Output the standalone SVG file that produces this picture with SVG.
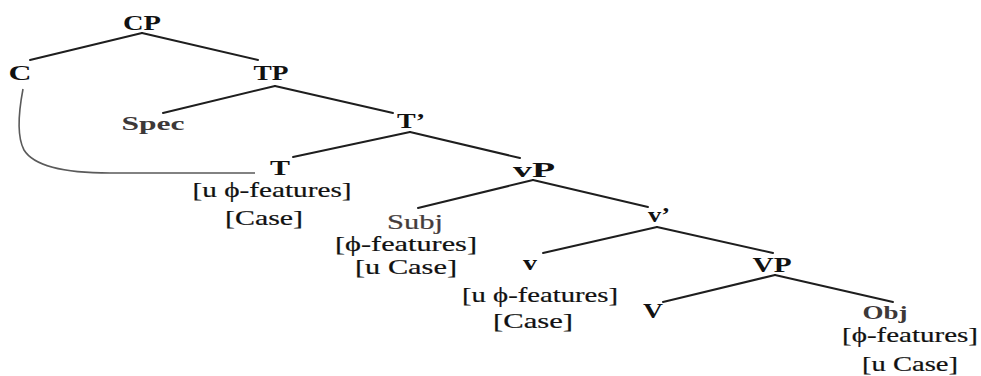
<svg xmlns="http://www.w3.org/2000/svg" width="981" height="376" viewBox="0 0 981 376">
  <style>
    .lbl { font-family: "Liberation Serif", "DejaVu Serif", serif; font-weight: bold; font-size: 22px; fill: #111; text-anchor: middle; }
    .cat { font-family: "Liberation Serif", "DejaVu Serif", serif; font-weight: bold; font-size: 18px; fill: #3d3838; text-anchor: middle; }
    .arg { font-family: "Liberation Serif", "DejaVu Serif", serif; font-size: 20px; fill: #463c3c; stroke: #463c3c; stroke-width: 0.2; text-anchor: middle; }
    .feat { font-family: "Liberation Serif", "DejaVu Serif", serif; font-size: 21px; fill: #111; stroke: #111; stroke-width: 0.2; text-anchor: middle; }
    .edge { stroke: #1e1e1e; stroke-width: 2; fill: none; stroke-linecap: round; }
    .agree { stroke: #5a5a5a; stroke-width: 1.6; fill: none; }
  </style>
  <rect width="981" height="376" fill="#ffffff"/>

  <g id="connectors">
    <line class="edge" x1="142" y1="33" x2="30" y2="60"/>
    <line class="edge" x1="142" y1="33" x2="258" y2="60"/>
    <line class="edge" x1="275" y1="86" x2="163" y2="113"/>
    <line class="edge" x1="275" y1="86" x2="393" y2="113"/>
    <line class="edge" x1="410" y1="132" x2="293" y2="157"/>
    <line class="edge" x1="410" y1="132" x2="520" y2="158"/>
    <line class="edge" x1="533" y1="180" x2="418" y2="208"/>
    <line class="edge" x1="533" y1="180" x2="648" y2="207"/>
    <line class="edge" x1="657" y1="227" x2="543" y2="253"/>
    <line class="edge" x1="657" y1="227" x2="773" y2="253"/>
    <line class="edge" x1="775" y1="275" x2="663" y2="302"/>
    <line class="edge" x1="775" y1="275" x2="893" y2="302"/>
    <!-- C to T link -->
    <path class="agree" d="M23,89 C19,110 16,135 24,150 C35,168 70,173 110,173 L255,173"/>
  </g>

  <g id="CP"><text class="lbl" x="142" y="30" textLength="38" lengthAdjust="spacingAndGlyphs">CP</text></g>
  <g id="C"><text class="lbl" x="20" y="80" textLength="23" lengthAdjust="spacingAndGlyphs">C</text></g>
  <g id="TP"><text class="lbl" x="271" y="80" textLength="35" lengthAdjust="spacingAndGlyphs">TP</text></g>
  <g id="Spec"><text class="cat" x="153" y="130" textLength="63" lengthAdjust="spacingAndGlyphs">Spec</text></g>
  <g id="Tbar"><text class="lbl" x="411" y="128" textLength="28" lengthAdjust="spacingAndGlyphs">T’</text></g>
  <g id="T">
    <text class="lbl" x="280" y="175" textLength="20" lengthAdjust="spacingAndGlyphs">T</text>
    <text class="feat" x="272" y="197" textLength="159" lengthAdjust="spacingAndGlyphs">[u ϕ-features]</text>
    <text class="feat" x="264" y="225" textLength="78" lengthAdjust="spacingAndGlyphs">[Case]</text>
  </g>
  <g id="vP"><text class="lbl" x="534" y="177" textLength="42" lengthAdjust="spacingAndGlyphs">vP</text></g>
  <g id="Subj">
    <text class="arg" x="415" y="229" textLength="56" lengthAdjust="spacingAndGlyphs">Subj</text>
    <text class="feat" x="406" y="251" textLength="142" lengthAdjust="spacingAndGlyphs">[ϕ-features]</text>
    <text class="feat" x="406" y="274" textLength="102" lengthAdjust="spacingAndGlyphs">[u Case]</text>
  </g>
  <g id="vbar"><text class="lbl" x="659" y="222" textLength="22" lengthAdjust="spacingAndGlyphs">v’</text></g>
  <g id="v">
    <text class="lbl" x="530" y="270" textLength="14" lengthAdjust="spacingAndGlyphs">v</text>
    <text class="feat" x="540" y="302" textLength="156" lengthAdjust="spacingAndGlyphs">[u ϕ-features]</text>
    <text class="feat" x="533" y="328" textLength="80" lengthAdjust="spacingAndGlyphs">[Case]</text>
  </g>
  <g id="VP"><text class="lbl" x="772" y="272" textLength="39" lengthAdjust="spacingAndGlyphs">VP</text></g>
  <g id="V"><text class="lbl" x="653" y="318" textLength="20" lengthAdjust="spacingAndGlyphs">V</text></g>
  <g id="Obj">
    <text class="cat" x="885" y="319" textLength="45" lengthAdjust="spacingAndGlyphs">Obj</text>
    <text class="feat" x="910" y="342" textLength="136" lengthAdjust="spacingAndGlyphs">[ϕ-features]</text>
    <text class="feat" x="910" y="371" textLength="96" lengthAdjust="spacingAndGlyphs">[u Case]</text>
  </g>
</svg>
